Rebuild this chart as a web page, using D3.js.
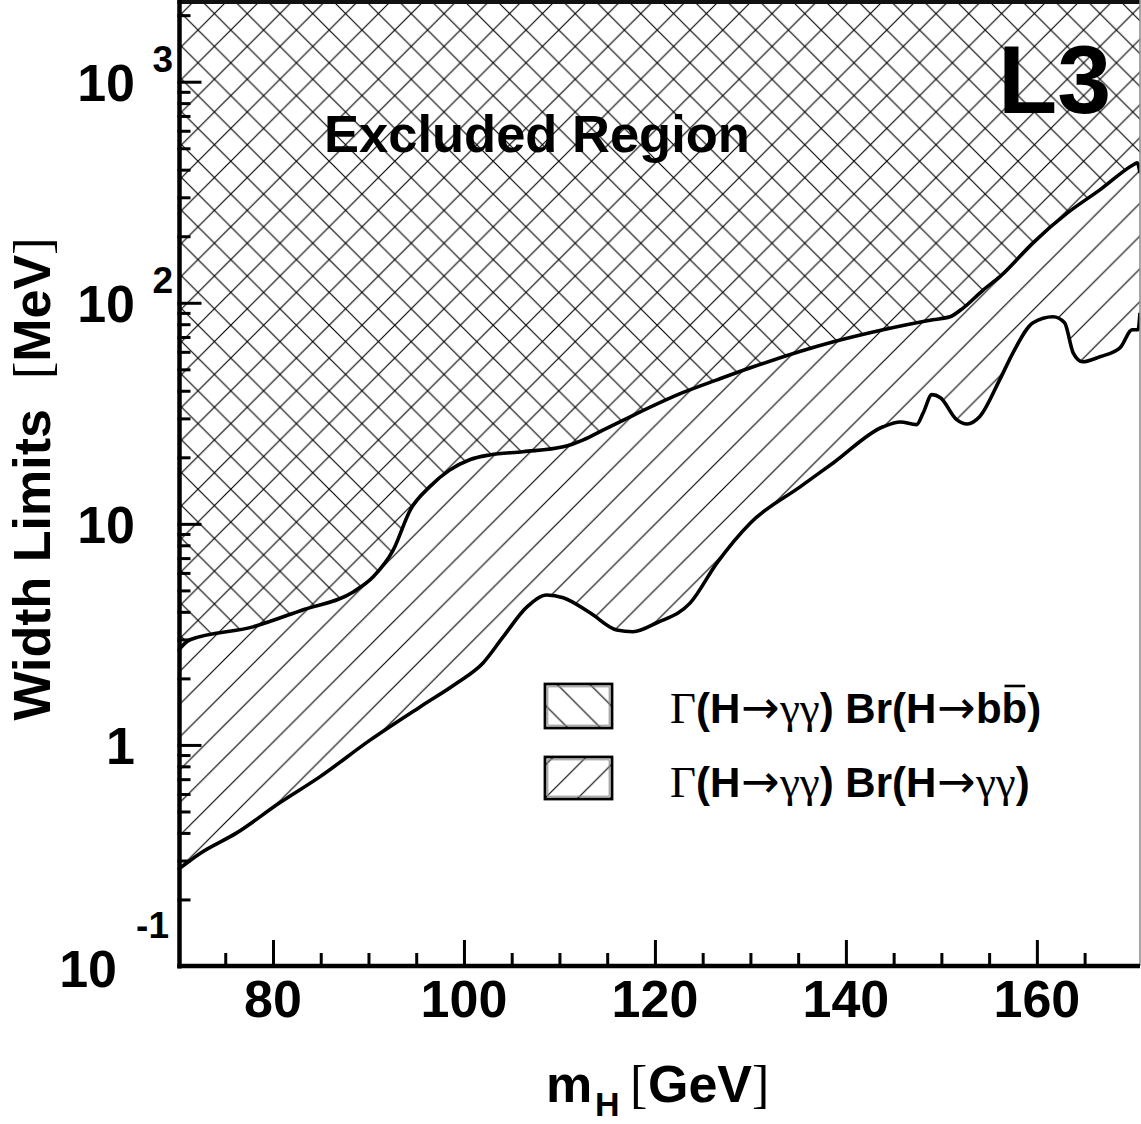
<!DOCTYPE html>
<html><head><meta charset="utf-8">
<script src="https://cdn.jsdelivr.net/npm/d3@7"></script>
<style>body{margin:0;background:#fff;} svg{display:block;}</style>
</head><body>
<svg id="chart" width="1141" height="1124"></svg>
<script>
// ---- data ----
const massBB  = [70, 71.3, 77.9, 83.1, 88.4, 90.5, 92.6, 94.4, 96.4, 98.5, 100.6, 102.7, 106.2, 110.4, 112.5, 114.6, 117.4, 122.9, 126.5, 130.0, 138.7, 143.9, 149.1, 150.9, 152.3, 154.4, 156.1, 159.6, 163.2, 166.6, 170.1, 170.5, 170.8];
const widthBB = [2.65, 2.99, 3.42, 4.08, 4.92, 5.76, 7.62, 11.6, 14.7, 17.5, 19.5, 20.5, 21.2, 22.3, 24.0, 26.6, 30.5, 39.2, 44.8, 50.8, 66.6, 75.5, 83.8, 86.4, 94.9, 114.5, 131, 187, 255, 324, 421, 430, 387];
const massGG  = [70, 72.4, 76.2, 80.7, 84.9, 90.2, 95.4, 99.3, 102.0, 104.1, 106.6, 108.7, 110.4, 113.2, 116.0, 117.7, 120.2, 123.7, 126.5, 130.0, 135.2, 138.7, 143.9, 145.7, 147.4, 148.1, 149.0, 149.9, 151.6, 152.7, 154.0, 156.1, 157.5, 159.6, 161.7, 162.9, 163.8, 164.8, 166.6, 168.7, 170.0, 170.6, 170.8];
const widthGG = [0.272, 0.324, 0.400, 0.547, 0.717, 1.054, 1.486, 1.91, 2.35, 3.08, 4.21, 4.77, 4.63, 3.96, 3.31, 3.25, 3.57, 4.39, 6.66, 10.1, 14.7, 18.9, 27.5, 28.9, 28.1, 31.8, 38.4, 37.2, 29.6, 28.3, 30.5, 44.8, 59.4, 81.2, 86.4, 81.2, 59.4, 54.1, 57.0, 62.5, 75.5, 75.5, 90.1];

const xMajorTicks = [80, 100, 120, 140, 160];
const xTickLabels = ["80", "100", "120", "140", "160"];
const xMinorTicks = [75, 85, 90, 95, 105, 110, 115, 125, 130, 135, 145, 150, 155, 165];
const yMajorTicks = [0.1, 1, 10, 100, 1000];
const yTickBase = ["10", "1", "10", "10", "10"];
const yTickExp  = ["-1", "", "", "2", "3"];
const yMinorTicks = [0.2,0.3,0.4,0.5,0.6,0.7,0.8,0.9, 2,3,4,5,6,7,8,9, 20,30,40,50,60,70,80,90, 200,300,400,500,600,700,800,900, 2000];

const xTitle = ["m", "H", "[", "GeV", "]"];
const yTitle = ["Width Limits", "[", "MeV", "]"];
const annotation = "Excluded Region";
const experiment = "L3";
const legendLines = [
  ["Γ", "(H", "→", "γγ", ") Br(H", "→", "bb", ")"],
  ["Γ", "(H", "→", "γγ", ") Br(H", "→", "γγ", ")"]
];

// ---- layout ----
const W = 1141, H = 1124;
const L = 177.5, R = 1140, T = 3, B = 966;
const SANS = "'Liberation Sans', Arial, Helvetica, sans-serif";
const SERIF = "'Liberation Serif', 'Times New Roman', serif";
const ARROW = "'DejaVu Sans', sans-serif";

const svg = d3.select("#chart");
svg.append("rect").attr("width", W).attr("height", H).attr("fill", "#fff");

const x = d3.scaleLinear().domain([70, 170.8]).range([L, R]);
const y = d3.scaleLog().domain([0.1, 2270]).range([B, T]);

const defs = svg.append("defs");
const s = 32.8;
// "\" hatch  (bb)
defs.append("pattern").attr("id", "hatchBack").attr("patternUnits", "userSpaceOnUse")
  .attr("width", s).attr("height", s).attr("x", 4).attr("y", 0)
  .append("path")
  .attr("d", `M-1,-1L${s+1},${s+1}M${s-1},-1L${s+1},1M-1,${s-1}L1,${s+1}`)
  .attr("stroke", "#000").attr("stroke-width", 1.15).attr("fill", "none");
// "/" hatch  (gamma gamma)
defs.append("pattern").attr("id", "hatchFwd").attr("patternUnits", "userSpaceOnUse")
  .attr("width", s).attr("height", s).attr("x", 31.2).attr("y", 0)
  .append("path")
  .attr("d", `M-1,${s+1}L${s+1},-1M-1,1L1,-1M${s-1},${s+1}L${s+1},${s-1}`)
  .attr("stroke", "#000").attr("stroke-width", 1.15).attr("fill", "none");
defs.append("clipPath").attr("id", "plotClip")
  .append("rect").attr("x", L).attr("y", T).attr("width", R - L).attr("height", B - T);

const bb = massBB.map((m, i) => ({m, w: widthBB[i]}));
const gg = massGG.map((m, i) => ({m, w: widthGG[i]}));

const plot = svg.append("g").attr("clip-path", "url(#plotClip)");
const area = d3.area().x(d => x(d.m)).y0(T).y1(d => y(d.w)).curve(d3.curveMonotoneX);
const line = d3.line().x(d => x(d.m)).y(d => y(d.w)).curve(d3.curveMonotoneX);

plot.append("path").attr("d", area(gg)).attr("fill", "url(#hatchFwd)");
plot.append("path").attr("d", area(bb)).attr("fill", "url(#hatchBack)");
plot.append("path").attr("d", line(gg)).attr("fill", "none").attr("stroke", "#000").attr("stroke-width", 3.6).attr("stroke-linejoin", "round");
plot.append("path").attr("d", line(bb)).attr("fill", "none").attr("stroke", "#000").attr("stroke-width", 3.6).attr("stroke-linejoin", "round");

// ---- text inside plot ----
svg.append("text").attr("x", 324).attr("y", 152)
  .attr("font-family", SANS).attr("font-weight", "bold").attr("font-size", 52.5)
  .text(annotation);
svg.append("text").attr("x", 998).attr("y", 113)
  .attr("font-family", SANS).attr("font-weight", "bold").attr("font-size", 97)
  .text(experiment);

// ---- legend ----
const legendFills = ["url(#hatchBack)", "url(#hatchFwd)"];
const boxY = [684, 757], boxH = [44, 42], textY = [723, 797];
legendLines.forEach((parts, i) => {
  svg.append("rect").attr("x", 545).attr("y", boxY[i]).attr("width", 67).attr("height", boxH[i])
    .attr("fill", legendFills[i]).attr("stroke", "#000").attr("stroke-width", 2.8);
  svg.append("rect").attr("x", 547.8).attr("y", boxY[i] + 2.8).attr("width", 61.4).attr("height", boxH[i] - 5.6)
    .attr("fill", "none").attr("stroke", "#888").attr("stroke-width", 1);
  const t = svg.append("text").attr("x", 670).attr("y", textY[i]).attr("font-size", 42);
  parts.forEach(p => {
    const ts = t.append("tspan").text(p);
    if (p === "→") {
      ts.attr("font-family", ARROW).attr("font-weight", "normal").attr("font-size", 46).attr("dx", 1);
    } else if (/[Γγ]/.test(p)) {
      ts.attr("font-family", SERIF).attr("font-weight", "normal").attr("font-size", 45);
    } else {
      ts.attr("font-family", SANS).attr("font-weight", "bold");
    }
  });
  if (parts[6] === "bb") {
    const node = t.node();
    const full = parts.join("");
    const idx = full.lastIndexOf("b");
    const ext = node.getExtentOfChar(idx);
    svg.append("line").attr("x1", ext.x + 3).attr("x2", ext.x + ext.width - 2)
      .attr("y1", ext.y + 1).attr("y2", ext.y + 1)
      .attr("stroke", "#000").attr("stroke-width", 2.6);
  }
});

// ---- axes ----
const axes = svg.append("g");
const xMaj = d3.axisBottom(x).tickValues(xMajorTicks).tickSize(-26).tickFormat("");
const xMin = d3.axisBottom(x).tickValues(xMinorTicks).tickSize(-13).tickFormat("");
const yMaj = d3.axisRight(y).tickValues(yMajorTicks).tickSize(24).tickFormat("");
const yMin = d3.axisRight(y).tickValues(yMinorTicks).tickSize(13).tickFormat("");
[[xMaj, `translate(0,${B})`], [xMin, `translate(0,${B})`], [yMaj, `translate(${L},0)`], [yMin, `translate(${L},0)`]]
  .forEach(([ax, tr]) => {
    const g = axes.append("g").attr("transform", tr).call(ax);
    g.select(".domain").remove();
    g.selectAll(".tick line").attr("stroke", "#000").attr("stroke-width", 3);
  });

// frame
axes.append("line").attr("x1", L).attr("x2", R).attr("y1", 2).attr("y2", 2).attr("stroke", "#111").attr("stroke-width", 4);
axes.append("line").attr("x1", R).attr("x2", R).attr("y1", 0).attr("y2", B).attr("stroke", "#888").attr("stroke-width", 1.5);
axes.append("line").attr("x1", 179.5).attr("x2", 179.5).attr("y1", 0).attr("y2", B + 2.5).attr("stroke", "#000").attr("stroke-width", 4.5);
axes.append("line").attr("x1", 177.5).attr("x2", R).attr("y1", B).attr("y2", B).attr("stroke", "#000").attr("stroke-width", 4.5);

// x tick labels
xMajorTicks.forEach((v, i) => {
  svg.append("text").attr("x", x(v)).attr("y", 1017).attr("text-anchor", "middle")
    .attr("font-family", SANS).attr("font-weight", "bold").attr("font-size", 52)
    .text(xTickLabels[i]);
});
// y tick labels
yMajorTicks.forEach((v, i) => {
  const py = y(v);
  const neg = yTickExp[i].startsWith("-");
  svg.append("text").attr("x", neg ? 117 : 135).attr("y", py + (neg ? 21 : 19.5)).attr("text-anchor", "end")
    .attr("font-family", SANS).attr("font-weight", "bold").attr("font-size", 52)
    .text(yTickBase[i]);
  if (yTickExp[i]) {
    svg.append("text").attr("x", neg ? 169 : 173).attr("y", py + (neg ? -28 : -9.5)).attr("text-anchor", "end")
      .attr("font-family", SANS).attr("font-weight", "bold").attr("font-size", 37)
      .text(yTickExp[i]);
  }
});

// x title
const xt = svg.append("text").attr("y", 1102).attr("font-size", 52);
xt.append("tspan").attr("x", 546).attr("font-family", SANS).attr("font-weight", "bold").text(xTitle[0]);
xt.append("tspan").attr("x", 595).attr("y", 1116).attr("font-size", 34).attr("font-family", SANS).attr("font-weight", "bold").text(xTitle[1]);
xt.append("tspan").attr("x", 630).attr("y", 1102).attr("font-family", SERIF).text(xTitle[2]);
xt.append("tspan").attr("x", 648).attr("font-family", SANS).attr("font-weight", "bold").text(xTitle[3]);
xt.append("tspan").attr("x", 752).attr("font-family", SERIF).text(xTitle[4]);

// y title
const yt = svg.append("text").attr("transform", "translate(50,479) rotate(-90)")
  .attr("text-anchor", "middle").attr("font-size", 52);
yt.append("tspan").attr("font-family", SANS).attr("font-weight", "bold").text(yTitle[0]);
yt.append("tspan").attr("dx", 30).attr("font-family", SERIF).text(yTitle[1]);
yt.append("tspan").attr("font-family", SANS).attr("font-weight", "bold").text(yTitle[2]);
yt.append("tspan").attr("font-family", SERIF).text(yTitle[3]);
</script>
</body></html>
